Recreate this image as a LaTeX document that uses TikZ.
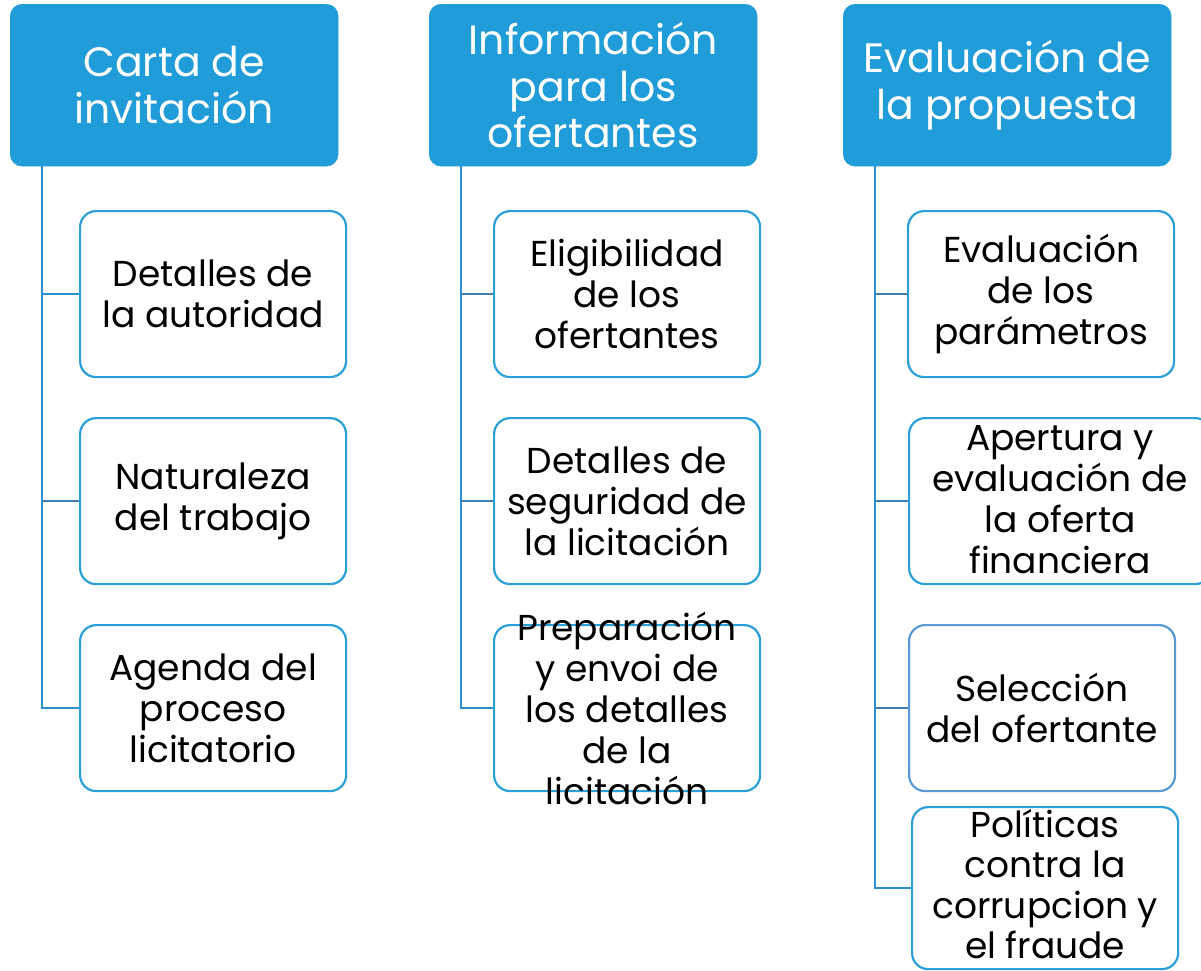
\documentclass[tikz,border=0pt]{standalone}
\usepackage{fontspec}
\setmainfont{Poppins}
\definecolor{hdr}{HTML}{209CD8}
\definecolor{bord}{HTML}{2A9FD8}
\definecolor{bord2}{HTML}{5B9BD5}
\definecolor{conn}{HTML}{2A8FCF}
\definecolor{branch}{HTML}{3F7FB5}
\tikzset{
  hdrbox/.style={fill=hdr, draw=hdr, rounded corners=12pt, minimum width=328pt, minimum height=162pt, inner sep=0pt, anchor=north west},
  kidbox/.style={fill=white, draw=bord, line width=2.2pt, rounded corners=16pt, minimum width=266pt, minimum height=166pt, inner sep=0pt, anchor=north west},
  hdrtext/.style={text=white, align=center, font=\fontsize{41}{46.5}\selectfont, inner sep=0pt},
  kidtext/.style={text=black, align=center, font=\fontsize{36}{41}\selectfont, inner sep=0pt},
  vline/.style={draw=conn, line width=2.2pt},
  bline/.style={draw=branch, line width=1.6pt},
}
\begin{document}
\begin{tikzpicture}[x=1pt,y=-1pt]
\useasboundingbox (0,0) rectangle (1201,970);
% headers
\node[hdrbox] (h1) at (10,4) {};
\node[hdrbox] (h2) at (429,4) {};
\node[hdrbox] (h3) at (843,4) {};
\node[hdrtext] (h1t) at (h1.center) {Carta de\\invitación};
\node[hdrtext] (h2t) at (h2.center) {Información\\para los\\ofertantes};
\node[hdrtext] (h3t) at (h3.center) {Evaluación de\\la propuesta};
% trunk coordinates
\coordinate (t1) at (42,166);
\coordinate (t2) at (461,166);
\coordinate (t3) at (875,166);
% column 1 connectors
\node[kidbox] (c11) at (79,210) {};
\node[kidbox] (c12) at (79,417) {};
\node[kidbox] (c13) at (79,624) {};
\draw[vline] (t1) |- (c13.west);
\draw[vline] (t1 |- c11.west) -- (c11.west);
\draw[bline] (t1 |- c12.west) -- (c12.west);
% column 2
\node[kidbox] (c21) at (493,210) {};
\node[kidbox] (c22) at (493,417) {};
\node[kidbox] (c23) at (493,624) {};
\draw[vline] (t2) |- (c23.west);
\draw[bline] (t2 |- c21.west) -- (c21.west);
\draw[bline] (t2 |- c22.west) -- (c22.west);
% column 3
\node[kidbox] (c31) at (907,210) {};
\node[kidbox, minimum width=302pt] (c32) at (908,417) {};
\node[kidbox, draw=bord2] (c33) at (908,624) {};
\node[kidbox, minimum height=162pt] (c34) at (911,806) {};
\draw[vline] (t3) |- (c34.west);
\draw[bline] (t3 |- c31.west) -- (c31.west);
\draw[bline] (t3 |- c32.west) -- (c32.west);
\draw[bline] (t3 |- c33.west) -- (c33.west);
% texts
\node[kidtext] (c11t) at (c11.center) {Detalles de\\la autoridad};
\node[kidtext] (c12t) at (c12.center) {Naturaleza\\del trabajo};
\node[kidtext] (c13t) at (c13.center) {Agenda del\\proceso\\licitatorio};
\node[kidtext] (c21t) at (c21.center) {Eligibilidad\\de los\\ofertantes};
\node[kidtext] (c22t) at (c22.center) {Detalles de\\seguridad de\\la licitación};
\node[kidtext] (c23t) at (c23.center) {Preparación\\y envoi de\\los detalles\\de la\\licitación};
\node[kidtext] (c31t) at (c31.center) {Evaluación\\de los\\parámetros};
\node[kidtext] (c32t) at ([yshift=1pt]c32.center) {Apertura y\\evaluación de\\la oferta\\financiera};
\node[kidtext] (c33t) at (c33.center) {Selección\\del ofertante};
\node[kidtext, font=\fontsize{36}{40.5}\selectfont] (c34t) at ([yshift=4pt]c34.center) {Políticas\\contra la\\corrupcion y\\el fraude};
\end{tikzpicture}
\end{document}
